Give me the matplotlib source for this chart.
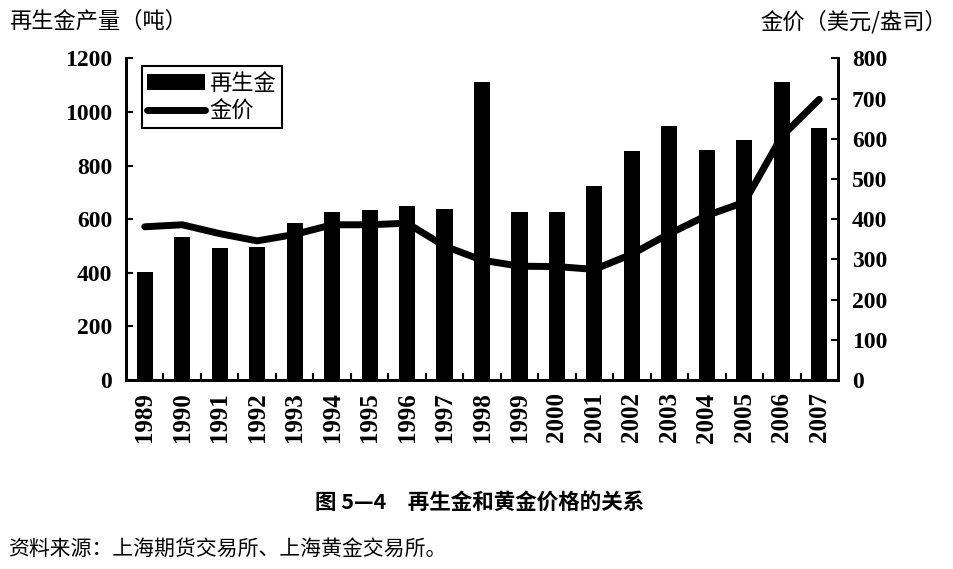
import matplotlib
matplotlib.use("Agg")
import matplotlib.pyplot as plt
import numpy as np

years = ["1989", "1990", "1991", "1992", "1993", "1994", "1995", "1996", "1997", "1998",
         "1999", "2000", "2001", "2002", "2003", "2004", "2005", "2006", "2007"]
recycled = [404, 535, 491, 497, 587, 625, 634, 649, 638, 1112,
            625, 625, 722, 853, 946, 857, 897, 1112, 940]
price = [381, 386, 364, 346, 362, 386, 386, 390, 333, 298,
         283, 282, 275, 313, 364, 409, 442, 606, 698]

left_ticks = [0, 200, 400, 600, 800, 1000, 1200]
right_ticks = [0, 100, 200, 300, 400, 500, 600, 700, 800]

cjk = ["Noto Sans CJK SC", "DejaVu Sans"]
num_font = "Liberation Serif"

fig = plt.figure(figsize=(9.54, 5.69), dpi=100)
ax = fig.add_axes([0.1321, 0.3322, 0.7463, 0.5653])
ax2 = ax.twinx()

x = np.arange(len(years))
bars = ax.bar(x, recycled, width=0.43, color="black", label="再生金", zorder=2)
line, = ax2.plot(x, price, color="black", lw=5, solid_joinstyle="round",
                 solid_capstyle="round", label="金价", zorder=3)

ax.set_xlim(-0.5, len(years) - 0.5)
ax.set_ylim(0, 1200)
ax2.set_ylim(0, 800)
ax.set_yticks(left_ticks)
ax2.set_yticks(right_ticks)
ax.set_xticks(x)
ax.set_xticklabels(years, rotation=90, fontfamily=num_font, fontweight="bold", fontsize=18)
ax.set_xticks(np.arange(len(years) + 1) - 0.5, minor=True)
ax.tick_params(axis="x", which="major", length=0, pad=9)
ax.tick_params(axis="x", which="minor", length=5, width=1.5, direction="in")
ax.tick_params(axis="y", length=5, width=1.5, direction="in", pad=10)
ax2.tick_params(axis="y", length=5, width=1.5, direction="in", pad=10)
for lab in ax.get_yticklabels() + ax2.get_yticklabels():
    lab.set_fontfamily(num_font)
    lab.set_fontweight("bold")
    lab.set_fontsize(17)

for a in (ax, ax2):
    a.spines["top"].set_visible(False)
    for s in ("left", "right", "bottom"):
        a.spines[s].set_linewidth(2)

ax.set_zorder(1)
ax2.set_zorder(2)
ax2.patch.set_visible(False)

leg = ax2.legend([bars, line], ["再生金", "金价"], loc="upper left",
                 bbox_to_anchor=(0.022, 0.975), borderaxespad=0,
                 prop={"family": cjk, "size": 16},
                 frameon=True, fancybox=False, edgecolor="black", handlelength=2.6,
                 handletextpad=0.2, borderpad=0.25, labelspacing=0.2,
                 framealpha=1)
leg.get_frame().set_linewidth(1.5)

fig.text(0.010, 0.962, "再生金产量（吨）", fontfamily=cjk, fontsize=16, ha="left", va="center")
fig.text(0.993, 0.962, "金价（美元/盎司）", fontfamily=cjk, fontsize=16, ha="right", va="center")
fig.text(0.503, 0.118, "图 5—4　再生金和黄金价格的关系", fontfamily=cjk, fontsize=15.5,
         fontweight="bold", ha="center", va="center")
fig.text(0.008, 0.035, "资料来源：上海期货交易所、上海黄金交易所。", fontfamily=cjk, fontsize=15,
         ha="left", va="center")

fig.savefig("out.png", dpi=100, facecolor="white")
